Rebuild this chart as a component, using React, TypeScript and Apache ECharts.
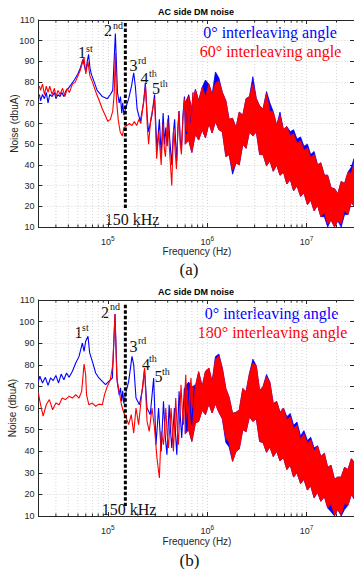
import React, { useEffect, useRef } from "react";
import * as echarts from "echarts";

// ---------- axis / tick data ----------
const X_MIN = 2e4;
const X_MAX = 3e7;
const Y_MIN = 10;
const Y_MAX = 110;
const Y_STEP = 10;
const MINOR_X = [3e4, 4e4, 5e4, 6e4, 7e4, 8e4, 9e4, 2e5, 3e5, 4e5, 5e5, 6e5, 7e5, 8e5, 9e5, 2e6, 3e6, 4e6, 5e6, 6e6, 7e6, 8e6, 9e6, 2e7];

// ---------- panel (a): 0° vs 60°, low-frequency traces ----------
const A_BLUE_LINE = [[2.05e4, 74], [2.1e4, 71], [2.2e4, 74], [2.3e4, 72], [2.4e4, 75], [2.5e4, 70], [2.6e4, 74], [2.75e4, 73], [2.9e4, 75], [3.0e4, 72], [3.15e4, 74], [3.3e4, 73], [3.45e4, 75], [3.6e4, 73], [3.8e4, 76], [4.0e4, 77], [4.3e4, 79], [4.6e4, 81], [5.0e4, 84], [5.3e4, 87], [5.6e4, 91], [5.8e4, 88], [6.0e4, 85], [6.2e4, 90], [6.4e4, 93.4], [6.6e4, 87], [6.8e4, 84], [7.3e4, 80], [7.8e4, 76], [8.8e4, 73], [9.9e4, 72], [1.06e5, 74], [1.12e5, 76], [1.19e5, 103.5], [1.25e5, 75], [1.3e5, 70], [1.34e5, 73], [1.38e5, 65], [1.41e5, 70], [1.45e5, 64], [1.5e5, 67], [1.62e5, 72], [1.73e5, 78], [1.82e5, 84.5], [1.89e5, 78], [1.97e5, 67], [2.12e5, 61], [2.29e5, 70], [2.38e5, 79.5], [2.5e5, 62], [2.57e5, 56], [2.78e5, 64], [2.95e5, 74], [3.12e5, 47], [3.3e5, 62], [3.44e5, 45], [3.6e5, 65], [3.72e5, 50], [3.83e5, 58], [3.95e5, 49], [4.07e5, 64], [4.2e5, 52], [4.4e5, 40], [4.55e5, 55], [4.7e5, 62], [4.82e5, 50], [4.94e5, 42], [5.07e5, 58], [5.2e5, 66], [5.35e5, 52], [5.5e5, 48], [5.7e5, 64], [5.9e5, 73], [6.05e5, 58], [6.2e5, 55], [6.35e5, 68], [6.5e5, 74], [6.7e5, 60], [6.9e5, 62], [7.2e5, 75]];
const A_RED_LINE = [[2.05e4, 78], [2.1e4, 76], [2.2e4, 79], [2.3e4, 74], [2.4e4, 78], [2.5e4, 75], [2.6e4, 78], [2.75e4, 74], [2.9e4, 77], [3.0e4, 73], [3.15e4, 76], [3.3e4, 74], [3.5e4, 77], [3.7e4, 73], [3.9e4, 77], [4.1e4, 75], [4.4e4, 79], [4.7e4, 80], [5.0e4, 83], [5.3e4, 86], [5.75e4, 92], [6.0e4, 84], [6.3e4, 90], [6.6e4, 83], [7.0e4, 80], [7.6e4, 75], [8.2e4, 71], [8.8e4, 67], [9.4e4, 64], [1.0e5, 61], [1.06e5, 62], [1.12e5, 66], [1.16e5, 75], [1.19e5, 94], [1.22e5, 72], [1.27e5, 62], [1.33e5, 56], [1.4e5, 54], [1.45e5, 58], [1.55e5, 59], [1.65e5, 60], [1.75e5, 59], [1.85e5, 61], [1.95e5, 59], [2.05e5, 62], [2.15e5, 60], [2.25e5, 68], [2.35e5, 75], [2.4e5, 78], [2.5e5, 58], [2.57e5, 50], [2.7e5, 62], [2.85e5, 68], [2.95e5, 72], [3.1e5, 43], [3.25e5, 56], [3.44e5, 40], [3.6e5, 60], [3.7e5, 48], [3.8e5, 44], [3.9e5, 55], [4.0e5, 62], [4.2e5, 45], [4.4e5, 30], [4.5e5, 46], [4.6e5, 58], [4.75e5, 47], [4.9e5, 38], [5.05e5, 55], [5.2e5, 66], [5.35e5, 50], [5.5e5, 45], [5.7e5, 62], [5.9e5, 72], [6.05e5, 60], [6.2e5, 56], [6.35e5, 67], [6.5e5, 73], [6.7e5, 58], [6.9e5, 60], [7.2e5, 75]];

// ---------- dense high-frequency region: shared frequency grid ----------
const HF_FREQ = [6.0e5, 6.5e5, 7.0e5, 7.6e5, 8.2e5, 8.9e5, 9.6e5, 1.04e6, 1.12e6, 1.21e6, 1.31e6, 1.42e6, 1.54e6, 1.66e6, 1.8e6, 1.95e6, 2.1e6, 2.28e6, 2.46e6, 2.66e6, 2.88e6, 3.12e6, 3.37e6, 3.65e6, 3.95e6, 4.27e6, 4.62e6, 5.0e6, 5.4e6, 5.85e6, 6.33e6, 6.85e6, 7.4e6, 8.0e6, 8.7e6, 9.4e6, 1.02e7, 1.1e7, 1.19e7, 1.29e7, 1.39e7, 1.51e7, 1.63e7, 1.76e7, 1.91e7, 2.06e7, 2.23e7, 2.41e7, 2.61e7, 2.82e7, 3.0e7];

const A_RED_UP = [70, 73.5, 67, 76.5, 71, 77.5, 73, 79, 74, 79.5, 80.5, 75, 71, 62, 62.5, 58, 65.5, 64, 72, 73, 79, 72, 68.5, 67, 74.5, 66, 65.7, 59, 64, 57, 58.5, 54, 55, 50.5, 51.6, 47, 48.3, 43.5, 45, 40, 41, 35, 35, 29, 28.5, 26, 32, 31, 36.5, 36, 41];
const A_RED_LO = [50, 52, 46, 55, 52, 57, 53, 60, 55.4, 61, 57, 56, 44, 45, 37.5, 41, 40, 50, 48, 56, 54, 56, 45, 45, 39.5, 42, 36.9, 40, 35, 36.5, 30.8, 33, 27.5, 30, 24.8, 26.5, 20.8, 23, 17.8, 20.5, 15, 17, 11.5, 13.5, 10, 13, 11.5, 18, 16, 22, 20];
const A_BLUE_UP = [70, 73.5, 67, 76.5, 71, 77.5, 81, 79, 74, 84.9, 82, 75, 71, 62, 62.5, 58, 65.5, 64, 72, 73, 82.6, 72, 68.5, 67, 75.4, 70, 65.7, 59, 65.5, 57, 58.5, 56, 57, 52.5, 53.5, 49, 50, 45, 46.5, 40, 41, 35, 35, 29, 28.5, 26, 32, 31, 36.5, 39, 43];
const A_BLUE_LO = [50, 52, 46, 55, 52, 57, 53, 60, 55.4, 61, 57, 56, 44, 45, 35.5, 41, 40, 50, 48, 56, 54, 56, 45, 45, 39.5, 42, 36.9, 40, 35, 36.5, 30.8, 33, 27.5, 30, 24.8, 26.5, 20.8, 23, 17.8, 20.5, 15, 15, 10, 13.5, 10, 13, 10, 16, 16, 22, 20];
const A_VLINE = [[1.5e5, 108.6], [1.5e5, 18.4]];

// ---------- panel (b): 0° vs 180° ----------
const B_BLUE_LINE = [[2.0e4, 72.4], [2.07e4, 74.7], [2.2e4, 71.6], [2.35e4, 74.2], [2.5e4, 70.5], [2.65e4, 73.9], [2.82e4, 72.7], [3.0e4, 75.1], [3.19e4, 71.6], [3.39e4, 75.7], [3.61e4, 73.1], [3.84e4, 76.2], [4.07e4, 74.2], [4.4e4, 77], [4.75e4, 80.8], [5.13e4, 83.9], [5.54e4, 90.1], [5.76e4, 86.2], [5.98e4, 90.9], [6.31e4, 93.2], [6.56e4, 85.5], [6.98e4, 81.6], [7.54e4, 76.2], [8.13e4, 73.9], [8.79e4, 72.3], [9.48e4, 70.8], [1.02e5, 72.3], [1.11e5, 73.9], [1.18e5, 103.5], [1.24e5, 72.3], [1.3e5, 66], [1.34e5, 69.3], [1.38e5, 63], [1.41e5, 68], [1.45e5, 62], [1.5e5, 66.2], [1.62e5, 72.3], [1.75e5, 83.9], [1.82e5, 80], [1.92e5, 64.6], [2.08e5, 61.5], [2.24e5, 69.3], [2.34e5, 77.7], [2.48e5, 60], [2.67e5, 56.9], [2.89e5, 73.9], [3.05e5, 43], [3.24e5, 60], [3.44e5, 39.9], [3.63e5, 63.1], [3.78e5, 47], [3.93e5, 38.4], [4.14e5, 61.5], [4.27e5, 50], [4.4e5, 41.5], [4.68e5, 60], [4.8e5, 48], [4.94e5, 38.4], [5.21e5, 67.7], [5.38e5, 55], [5.54e5, 46.1], [5.89e5, 69.3], [6.05e5, 58], [6.22e5, 49.2], [6.56e5, 70.8], [6.75e5, 60], [6.98e5, 52.3], [7.42e5, 70.8]];
const B_RED_LINE = [[2.0e4, 67], [2.07e4, 63.1], [2.23e4, 56.2], [2.4e4, 61.5], [2.58e4, 63.9], [2.78e4, 59.2], [3.0e4, 62.3], [3.23e4, 61.5], [3.47e4, 64.6], [3.73e4, 63.9], [4.07e4, 65.4], [4.4e4, 64.6], [4.75e4, 66.2], [5.13e4, 64.6], [5.45e4, 67.7], [5.76e4, 80.3], [5.98e4, 75.4], [6.1e4, 66.2], [6.44e4, 61.5], [6.98e4, 62.3], [7.54e4, 60.8], [8.13e4, 61.8], [8.79e4, 61.5], [9.26e4, 66.2], [9.86e4, 70], [1.06e5, 73.1], [1.12e5, 80], [1.18e5, 103.5], [1.23e5, 73.9], [1.29e5, 68.5], [1.37e5, 61.5], [1.45e5, 57.7], [1.53e5, 55.4], [1.62e5, 52.3], [1.72e5, 56.9], [1.82e5, 48.4], [1.92e5, 60], [2.04e5, 52.3], [2.17e5, 64.6], [2.34e5, 78.5], [2.48e5, 53.8], [2.61e5, 49.2], [2.78e5, 60], [2.95e5, 50.7], [3.12e5, 36.9], [3.3e5, 27.6], [3.44e5, 49.2], [3.63e5, 43], [3.83e5, 60], [3.95e5, 48], [4.07e5, 41.5], [4.33e5, 60], [4.45e5, 50], [4.57e5, 39.9], [4.82e5, 64.6], [4.97e5, 52], [5.13e5, 43], [5.45e5, 70.8], [5.6e5, 60], [5.76e5, 52.3], [6.08e5, 75.4], [6.25e5, 62], [6.44e5, 56.9], [6.86e5, 73.9], [7.05e5, 64], [7.24e5, 60]];
const B_RED_UP = [68, 68, 70, 70, 76.8, 70, 77, 78.5, 72, 82.5, 84.1, 78.4, 69, 65, 57.5, 58, 59, 69, 67.5, 76, 80.7, 79.5, 68, 70, 74.5, 72, 62, 63, 58, 60, 54.5, 56, 50.5, 52, 45.5, 48, 43.5, 45.3, 40, 42.5, 37.5, 39, 32.5, 33.5, 27, 28, 28, 32.5, 31.5, 36.5, 35];
const B_RED_LO = [48, 50, 44.5, 53, 53.8, 59, 56.9, 62, 57.7, 62, 58, 55, 46.1, 44, 35.3, 40, 41, 50, 49, 56, 53.8, 55, 44.5, 44, 39.5, 42, 37.5, 40, 35.5, 37, 31.5, 33.5, 28, 30, 25, 27, 22, 24, 18.4, 21, 16.8, 19, 13.7, 15.5, 10.5, 13, 10.5, 16, 15, 20, 18];
const B_BLUE_UP = [70, 72, 70, 70, 76.8, 70, 77, 78.5, 72, 83.8, 85, 78.4, 69, 65, 57.5, 58, 59, 69, 67.5, 76, 82.6, 79.5, 68, 70, 75.5, 72, 62, 63, 58, 60, 56, 57.5, 52, 53.5, 47, 49.5, 45, 46.5, 41.5, 42.5, 37.5, 39, 32.5, 33.5, 27, 28, 28, 32.5, 31.5, 36.5, 35];
const B_BLUE_LO = [48, 50, 44.5, 53, 53.8, 59, 56.9, 62, 57.7, 62, 58, 55, 44, 42, 35.3, 40, 41, 50, 49, 56, 53.8, 55, 44.5, 44, 39.5, 42, 37.5, 40, 35.5, 37, 31.5, 33.5, 28, 30, 25, 27, 22, 24, 18.4, 21, 16.8, 19, 13.7, 12, 10, 13, 10, 13, 15, 20, 18];
const B_VLINE = [[1.5e5, 107.8], [1.5e5, 14.6]];

// ---------- texts ----------
const TITLE = "AC side DM noise";
const X_NAME = "Frequency (Hz)";
const Y_NAME = "Noise (dbuA)";
const A_LEGEND = ["0° interleaving angle", "60° interleaving angle"];
const B_LEGEND = ["0° interleaving angle", "180° interleaving angle"];
const HARMONICS = [["1", "st"], ["2", "nd"], ["3", "rd"], ["4", "th"], ["5", "th"]];

const BLUE = "#0000ff";
const RED = "#ff0000";
const AXIS = "#262626";
const GRIDC = "#d6d6d6";
const SANS = '"Liberation Sans", Arial, sans-serif';
const SERIF = '"Liberation Serif", "Times New Roman", serif';

const GRIDS = [
  { left: 38.4, top: 20, width: 317.6, height: 207 },
  { left: 38.4, top: 300, width: 317.6, height: 216 },
];

function xAxes(gi: number) {
  const common = {
    gridIndex: gi,
    type: "log",
    logBase: 10,
    min: X_MIN,
    max: X_MAX,
    axisLine: { show: true, lineStyle: { color: AXIS, width: 1 } },
    axisTick: { show: true, inside: true, length: 4, lineStyle: { color: AXIS } },
  };
  return [
    {
      ...common,
      position: "bottom",
      axisLabel: {
        color: AXIS,
        margin: 8,
        showMinLabel: false,
        showMaxLabel: false,
        formatter: (v: number) => {
          const e = Math.round(Math.log10(v));
          if (Math.abs(v - Math.pow(10, e)) / v > 1e-6) return "";
          return `{b|10}{s|${e}}`;
        },
        rich: {
          b: { fontSize: 9, fontFamily: SANS, color: AXIS },
          s: { fontSize: 6.5, fontFamily: SANS, color: AXIS, padding: [0, 0, 7, 0] },
        },
      },
      splitLine: { show: true, lineStyle: { color: GRIDC, type: [1, 2], width: 1 } },
    },
    { ...common, position: "top", axisLabel: { show: false }, splitLine: { show: false } },
  ];
}

function yAxes(gi: number) {
  const common = {
    gridIndex: gi,
    type: "value",
    min: Y_MIN,
    max: Y_MAX,
    interval: Y_STEP,
    axisLine: { show: true, lineStyle: { color: AXIS, width: 1 } },
    axisTick: { show: true, inside: true, length: 4, lineStyle: { color: AXIS } },
  };
  return [
    {
      ...common,
      position: "left",
      axisLabel: { color: AXIS, fontSize: 9, fontFamily: SANS, margin: 4 },
      splitLine: { show: true, lineStyle: { color: GRIDC, type: [1, 2], width: 1 } },
    },
    { ...common, position: "right", axisLabel: { show: false }, splitLine: { show: false } },
  ];
}

function band(xi: number, yi: number, upV: number[], loV: number[], color: string) {
  const up = HF_FREQ.map((f, i) => [f, upV[i]]);
  const lo = HF_FREQ.map((f, i) => [f, loV[i]]);
  return {
    type: "custom",
    xAxisIndex: xi,
    yAxisIndex: yi,
    silent: true,
    clip: true,
    data: [[up[0][0], up[0][1]]],
    renderItem: (_p: any, api: any) => {
      const pts = up.map((p) => api.coord(p)).concat(lo.slice().reverse().map((p) => api.coord(p)));
      return {
        type: "polygon",
        shape: { points: pts },
        style: { fill: color, stroke: color, lineWidth: 0.8 },
      };
    },
  };
}

function line(xi: number, yi: number, data: number[][], color: string, width = 1.1) {
  return {
    type: "line",
    xAxisIndex: xi,
    yAxisIndex: yi,
    data,
    symbol: "none",
    showSymbol: false,
    silent: true,
    clip: true,
    lineStyle: { color, width },
  };
}

function minorSeries(xi: number, yi: number) {
  return {
    type: "custom",
    xAxisIndex: xi,
    yAxisIndex: yi,
    silent: true,
    data: MINOR_X.map((f) => [f, Y_MIN]),
    renderItem: (_p: any, api: any) => {
      const f = api.value(0);
      const b = api.coord([f, Y_MIN]);
      const t = api.coord([f, Y_MAX]);
      return {
        type: "group",
        children: [
          { type: "line", shape: { x1: b[0], y1: b[1], x2: t[0], y2: t[1] }, style: { stroke: GRIDC, lineWidth: 1, lineDash: [1, 2] } },
          { type: "line", shape: { x1: b[0], y1: b[1], x2: b[0], y2: b[1] - 2.5 }, style: { stroke: AXIS, lineWidth: 1 } },
          { type: "line", shape: { x1: t[0], y1: t[1], x2: t[0], y2: t[1] + 2.5 }, style: { stroke: AXIS, lineWidth: 1 } },
        ],
      };
    },
  };
}

function panelSeries(gi: number, bl: number[][], bu: number[], bd: number[], rl: number[][], ru: number[], rd: number[], vline: number[][]) {
  const xi = gi * 2;
  const yi = gi * 2;
  return [
    minorSeries(xi, yi),
    band(xi, yi, bu, bd, BLUE),
    line(xi, yi, bl, BLUE),
    band(xi, yi, ru, rd, RED),
    line(xi, yi, rl, RED),
    {
      type: "line",
      xAxisIndex: xi,
      yAxisIndex: yi,
      data: vline,
      symbol: "none",
      silent: true,
      lineStyle: { color: "#000000", width: 3, type: [3.5, 2] },
    },
  ];
}

function txt(x: number, y: number, text: string, font: string, fill: string, extra: any = {}) {
  return {
    type: "text",
    x,
    y,
    silent: true,
    ...extra,
    style: { text, font, fill, align: extra.align || "center", verticalAlign: "middle" },
  };
}

function harmonicTexts(pos: number[][]) {
  const out: any[] = [];
  HARMONICS.forEach((h, i) => {
    const [mx, my, sx, sy] = pos[i];
    out.push(txt(mx, my, h[0], `16px ${SERIF}`, "#111111"));
    out.push(txt(sx, sy, h[1], `10px ${SERIF}`, "#111111", { align: "left" }));
  });
  return out;
}

const A_HARM_POS = [[82, 52.5, 86, 48], [108, 30.5, 113, 25], [133.5, 65.5, 138, 60.5], [144.5, 78.5, 149, 73.5], [156, 88.5, 160, 83.5]];
const B_HARM_POS = [[78.5, 332, 82, 327], [105, 312, 110, 306], [133.5, 346, 138, 340.5], [146, 364, 149, 358.5], [158.5, 376.5, 162, 371]];

export default function App() {
  const ref = useRef<HTMLDivElement>(null);
  useEffect(() => {
    if (!ref.current) return;
    const chart = echarts.init(ref.current, null, { renderer: "svg" });
    const graphics: any[] = [
      txt(196, 12, TITLE, `bold 9px ${SANS}`, "#000000"),
      txt(196, 292, TITLE, `bold 9px ${SANS}`, "#000000"),
      txt(197, 251, X_NAME, `10px ${SANS}`, AXIS),
      txt(197, 541.5, X_NAME, `10px ${SANS}`, AXIS),
      { ...txt(14, 123.5, Y_NAME, `10px ${SANS}`, AXIS), rotation: Math.PI / 2 },
      { ...txt(12.5, 408, Y_NAME, `10px ${SANS}`, AXIS), rotation: Math.PI / 2 },
      txt(189, 269, "(a)", `17px ${SERIF}`, "#111111"),
      txt(189.5, 560, "(b)", `17px ${SERIF}`, "#111111"),
      txt(270, 32, A_LEGEND[0], `16px ${SERIF}`, BLUE),
      txt(270.5, 51, A_LEGEND[1], `16px ${SERIF}`, RED),
      txt(271.5, 313, B_LEGEND[0], `16px ${SERIF}`, BLUE),
      txt(272.5, 332, B_LEGEND[1], `16px ${SERIF}`, RED),
      txt(132, 219, "150 kHz", `16px ${SERIF}`, "#111111"),
      txt(129, 509, "150 kHz", `16px ${SERIF}`, "#111111"),
      ...harmonicTexts(A_HARM_POS),
      ...harmonicTexts(B_HARM_POS),
    ];
    chart.setOption({
      animation: false,
      backgroundColor: "#ffffff",
      grid: GRIDS.map((g) => ({ ...g, containLabel: false })),
      xAxis: [...xAxes(0), ...xAxes(1)],
      yAxis: [...yAxes(0), ...yAxes(1)],
      series: [
        ...panelSeries(0, A_BLUE_LINE, A_BLUE_UP, A_BLUE_LO, A_RED_LINE, A_RED_UP, A_RED_LO, A_VLINE),
        ...panelSeries(1, B_BLUE_LINE, B_BLUE_UP, B_BLUE_LO, B_RED_LINE, B_RED_UP, B_RED_LO, B_VLINE),
      ],
      graphic: graphics,
    });
    return () => chart.dispose();
  }, []);
  return <div ref={ref} style={{ position: "absolute", left: 0, top: 0, width: 354, height: 569, background: "#fff" }} />;
}
